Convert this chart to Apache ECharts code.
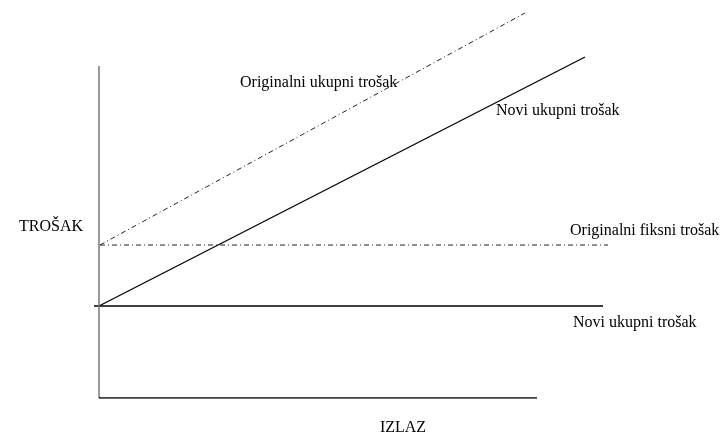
<!DOCTYPE html>
<html>
<head>
<meta charset="utf-8">
<script src="https://cdn.jsdelivr.net/npm/echarts@6/dist/echarts.min.js"></script>
<style>html,body{margin:0;padding:0;background:#fff}#c{width:721px;height:435px}</style>
</head>
<body>
<div id="c"></div>
<script>
// Conceptual cost chart (output on x, cost on y), in plot units
var xAxisLine = [[9, 0], [447, 0]];
var yAxisLine = [[9, 0], [9, 332]];
var noviFiksni = [[4, 92], [513, 92]];
var noviUkupni = [[9, 92], [495, 341]];
var origFiksni = [[10, 153], [518, 153]];
var origUkupni = [[10, 153], [435, 385]];
var labels = {
  yName: 'TROŠAK',
  xName: 'IZLAZ',
  origUkupni: 'Originalni ukupni trošak',
  noviUkupni: 'Novi ukupni trošak',
  origFiksni: 'Originalni fiksni trošak',
  noviFiksni: 'Novi ukupni trošak'
};

var chart = echarts.init(document.getElementById('c'), null, {renderer: 'canvas'});
var font = '"Liberation Serif", "Times New Roman", serif';
var dashDot = [5, 3, 1, 3];
function line(data, color, type, width, z) {
  return {type: 'line', data: data, symbol: 'none', silent: true, z: z || 2,
    lineStyle: {color: color, width: width, type: type}};
}
function txt(x, y, s, align) {
  return {type: 'text', x: x, y: y, style: {text: s, fill: '#000', font: '16px ' + font,
    textAlign: align || 'left', textVerticalAlign: 'middle'}};
}
chart.setOption({
  animation: false,
  backgroundColor: '#fff',
  grid: {left: 90, top: 13, width: 520, height: 385},
  xAxis: {type: 'value', min: 0, max: 520, show: false},
  yAxis: {type: 'value', min: 0, max: 385, show: false},
  series: [
    line(yAxisLine, '#777', 'solid', 1.5, 3),
    line(xAxisLine, '#000', 'solid', 1.3, 3),
    line(noviFiksni, '#000', 'solid', 1.3),
    line(noviUkupni, '#000', 'solid', 1.3),
    line(origFiksni, '#222', dashDot, 1),
    line(origUkupni, '#222', dashDot, 1)
  ],
  graphic: [
    txt(83, 227, labels.yName, 'right'),
    txt(403, 428, labels.xName, 'center'),
    txt(240, 83, labels.origUkupni),
    txt(496, 111, labels.noviUkupni),
    txt(570, 231, labels.origFiksni),
    txt(573, 323, labels.noviFiksni)
  ]
});
</script>
</body>
</html>
